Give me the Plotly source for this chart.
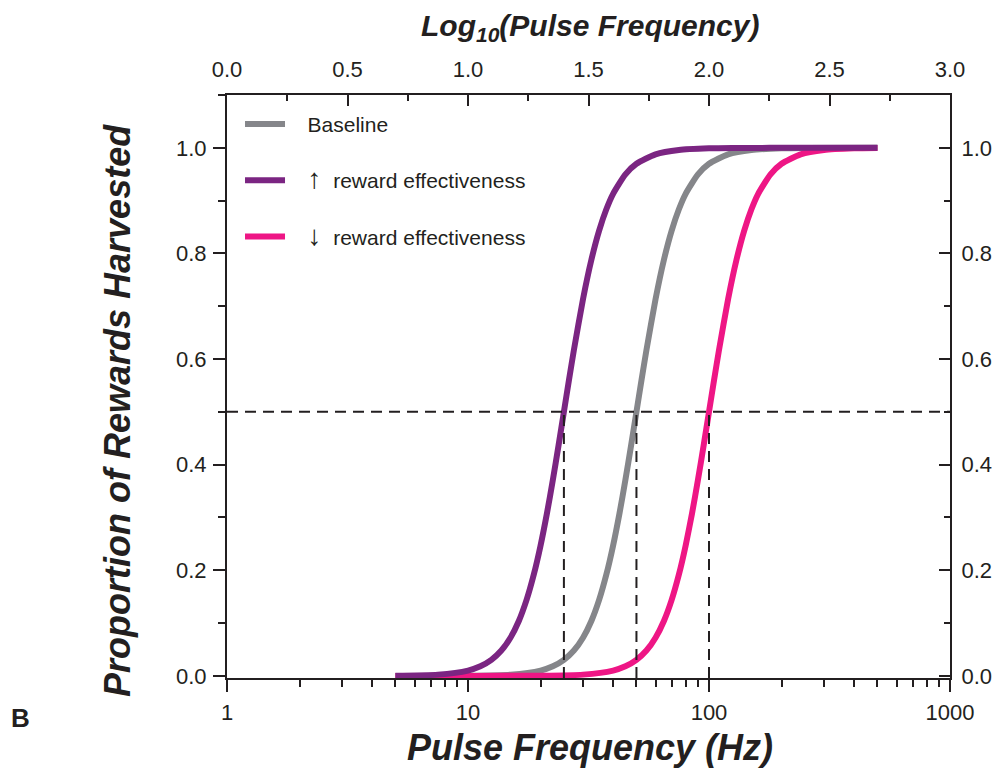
import plotly.graph_objects as go

# Proportion of rewards harvested vs. pulse frequency (Hz)
baseline_hz = [5, 10, 15, 20, 22.5, 25, 27.5, 30, 32.5, 35, 37.5, 40, 42.5, 45, 47.5, 50,
               52.5, 55, 60, 65, 70, 75, 80, 90, 100, 120, 150, 200, 250, 500]
baseline_p = [0.0, 0.0003, 0.0024, 0.0101, 0.0181, 0.0303, 0.0479, 0.0722, 0.104, 0.1439,
              0.1918, 0.2468, 0.3073, 0.3713, 0.4362, 0.5, 0.5607, 0.6169, 0.7133, 0.7878,
              0.8432, 0.8836, 0.9129, 0.9497, 0.9697, 0.9876, 0.9959, 0.999, 0.9997, 1.0]

up_hz = [5, 7.5, 10, 11.25, 12.5, 13.75, 15, 16.25, 17.5, 18.75, 20, 21.25, 22.5, 23.75, 25,
         26.25, 27.5, 30, 32.5, 35, 37.5, 40, 45, 50, 60, 75, 100, 125, 250, 500]
up_p = [0.0003, 0.0024, 0.0101, 0.0181, 0.0303, 0.0479, 0.0722, 0.104, 0.1439, 0.1918,
        0.2468, 0.3073, 0.3713, 0.4362, 0.5, 0.5607, 0.6169, 0.7133, 0.7878, 0.8432,
        0.8836, 0.9129, 0.9497, 0.9697, 0.9876, 0.9959, 0.999, 0.9997, 1.0, 1.0]

down_hz = [5, 10, 20, 30, 40, 45, 50, 55, 60, 65, 70, 75, 80, 85, 90, 95, 100, 105, 110,
           120, 130, 140, 150, 160, 180, 200, 240, 300, 400, 500]
down_p = [0.0, 0.0, 0.0003, 0.0024, 0.0101, 0.0181, 0.0303, 0.0479, 0.0722, 0.104, 0.1439,
          0.1918, 0.2468, 0.3073, 0.3713, 0.4362, 0.5, 0.5607, 0.6169, 0.7133, 0.7878,
          0.8432, 0.8836, 0.9129, 0.9497, 0.9697, 0.9876, 0.9959, 0.999, 0.9997]

half_max_hz = [25, 50, 100]
half_level = 0.5

x_tick_vals = [1, 10, 100, 1000]
x_tick_text = ["1", "10", "100", "1000"]

INK = "#231F20"
GRAY = "#85868A"
PURPLE = "#7B2582"
PINK = "#EE1685"
FONT = "Liberation Sans, Arial, Helvetica, sans-serif"
Y_RANGE = [-0.004, 1.1]
NB = "\u00a0"


def arrow(ch):
    return f'{NB * 3}<span style="font-size:28px">{ch}</span>{NB * 2}reward effectiveness'


fig = go.Figure()

fig.add_trace(go.Scatter(
    x=baseline_hz, y=baseline_p, mode="lines", name=NB * 3 + "Baseline",
    line=dict(color=GRAY, width=6, shape="spline", smoothing=0.6),
    legendgroup="a", legendrank=1))
fig.add_trace(go.Scatter(
    x=down_hz, y=down_p, mode="lines", name=arrow("\u2193"),
    line=dict(color=PINK, width=6, shape="spline", smoothing=0.6),
    legendgroup="c", legendrank=3))
fig.add_trace(go.Scatter(
    x=up_hz, y=up_p, mode="lines", name=arrow("\u2191"),
    line=dict(color=PURPLE, width=6, shape="spline", smoothing=0.6),
    legendgroup="b", legendrank=2))

# dashed guides at the half-maximum level
dash = dict(color=INK, width=2, dash="11px,7px")
fig.add_trace(go.Scatter(x=[x_tick_vals[0], x_tick_vals[-1]], y=[half_level, half_level],
                         mode="lines", line=dash, showlegend=False, hoverinfo="skip"))
for f in half_max_hz:
    fig.add_trace(go.Scatter(x=[f, f], y=[Y_RANGE[0], half_level], mode="lines",
                             line=dash, showlegend=False, hoverinfo="skip"))

# carrier for the secondary (top / right) axes
fig.add_trace(go.Scatter(x=[None], y=[None], xaxis="x2", yaxis="y2",
                         showlegend=False, hoverinfo="skip"))

axis_common = dict(showline=True, linecolor=INK, linewidth=2, showgrid=False,
                   zeroline=False, tickcolor=INK, tickwidth=2, automargin=False,
                   tickfont=dict(family=FONT, size=22, color=INK))
title_font = dict(family=FONT, size=36, color=INK)

fig.update_layout(
    width=1002, height=780,
    margin=dict(l=227, r=52, t=95, b=102, autoexpand=False),
    paper_bgcolor="white", plot_bgcolor="white",
    font=dict(family=FONT, color=INK),
    xaxis=dict(type="log", range=[0, 3], tickvals=x_tick_vals, ticktext=x_tick_text,
               ticks="outside", ticklen=12, ticklabelstandoff=2,
               minor=dict(ticks="outside", ticklen=7, tickwidth=2, tickcolor=INK,
                          dtick="D1", showgrid=False),
               **axis_common),
    yaxis=dict(range=Y_RANGE, tick0=0, dtick=0.2, tickformat=".1f",
               ticks="outside", ticklen=12, ticklabelstandoff=2,
               minor=dict(ticks="outside", ticklen=7, tickwidth=2, tickcolor=INK,
                          tick0=0, dtick=0.1, showgrid=False),
               **axis_common),
    xaxis2=dict(overlaying="x", side="top", anchor="y", range=[0, 3], tick0=0, dtick=0.5,
                tickformat=".1f", ticks="inside", ticklen=11, ticklabelstandoff=7,
                minor=dict(ticks="inside", ticklen=6, tickwidth=2, tickcolor=INK,
                           tick0=0, dtick=0.25, showgrid=False),
                **axis_common),
    yaxis2=dict(overlaying="y", side="right", anchor="x", range=Y_RANGE, tick0=0,
                dtick=0.2, tickformat=".1f", ticks="inside", ticklen=11,
                ticklabelstandoff=5,
                minor=dict(ticks="inside", ticklen=6, tickwidth=2, tickcolor=INK,
                           tick0=0, dtick=0.1, showgrid=False),
                **axis_common),
    legend=dict(x=0.018, y=0.985, xanchor="left", yanchor="top",
                bgcolor="rgba(0,0,0,0)", traceorder="grouped", tracegroupgap=26,
                font=dict(family=FONT, size=21, color=INK), itemwidth=40),
    annotations=[
        dict(text="<b><i>Pulse Frequency (Hz)</i></b>", xref="paper", yref="paper",
             x=0.502, y=-0.12, xanchor="center", yanchor="middle", showarrow=False,
             font=title_font),
        dict(text="<b><i>Proportion of Rewards Harvested</i></b>", xref="paper",
             yref="paper", x=-0.1508, y=0.4597, xanchor="center", yanchor="middle",
             textangle=-90, showarrow=False, font=title_font),
        dict(text="<b><i>Log<sub>10</sub>(Pulse Frequency)</i></b>", xref="paper",
             yref="paper", x=0.502, y=1.115, xanchor="center", yanchor="middle",
             showarrow=False, font=dict(family=FONT, size=30, color=INK)),
        dict(text="<b>B</b>", xref="paper", yref="paper", x=-0.286, y=-0.069,
             xanchor="center", yanchor="middle", showarrow=False,
             font=dict(family=FONT, size=26, color=INK)),
    ],
)

fig.write_html("out.html")
